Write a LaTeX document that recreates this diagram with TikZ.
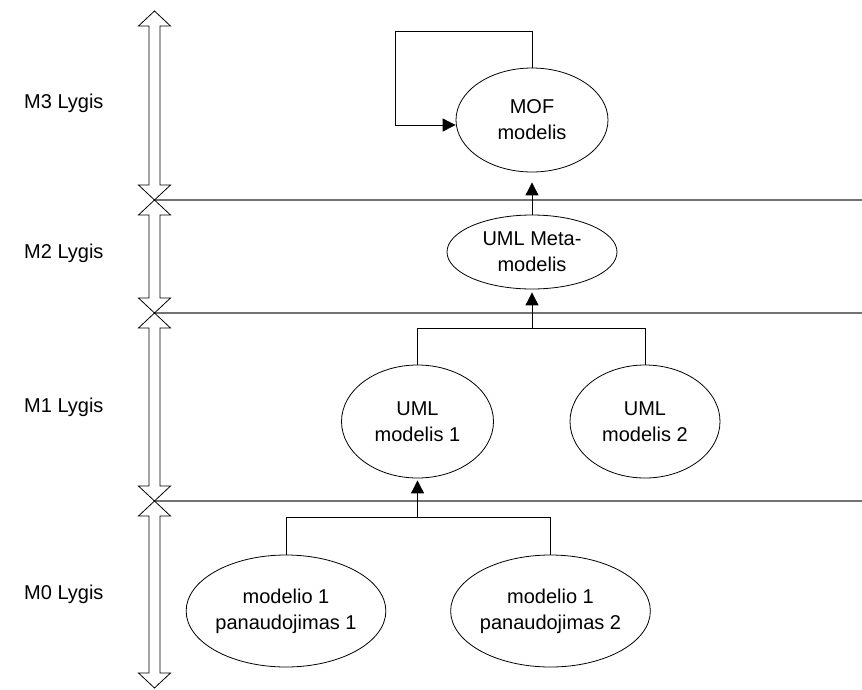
\documentclass[tikz,border=0pt]{standalone}
\usepackage{fontspec}
\setmainfont{Liberation Sans}
\usetikzlibrary{shapes.geometric,arrows.meta}

% outlined double arrow marking the extent of one level, from y=#1 to y=#2
\newcommand\levelarrow[2]{%
  \draw[lvlarrow] (154.5,#1) -- (170.5,#1+15) -- (160,#1+15) -- (160,#2-15)
    -- (170.5,#2-15) -- (154.5,#2) -- (138.5,#2-15) -- (149,#2-15)
    -- (149,#1+15) -- (138.5,#1+15) -- cycle;}

\tikzset{
  txt/.style={font=\fontsize{20}{26}\selectfont},
  model/.style={draw, line width=0.8pt, ellipse, inner sep=0pt, align=center, txt},
  conn/.style={line width=0.9pt},
  arr/.style={conn, -{Triangle[length=13pt,width=13pt]}},
  lvlarrow/.style={draw, fill=white, line width=0.8pt},
  divider/.style={draw=black!55, line width=1.3pt},
  lvllabel/.style={anchor=base west, inner sep=0pt, txt}
}

\begin{document}
\begin{tikzpicture}[x=1pt,y=-1pt]
\useasboundingbox[fill=white] (0,0) rectangle (862,689);

% level borders
\coordinate (c1) at (154.5,200);
\coordinate (c2) at (154.5,313);
\coordinate (c3) at (154.5,501);
\coordinate (edge) at (862,0);
\draw[divider] (c1) -- (c1 -| edge);
\draw[divider] (c2) -- (c2 -| edge);
\draw[divider] (c3) -- (c3 -| edge);

\levelarrow{11}{200}
\levelarrow{200}{313}
\levelarrow{313}{501}
\levelarrow{501}{688}

% level names
\node[lvllabel] (l3) at (24,108) {M3 Lygis};
\node[lvllabel] (l2) at (24,258) {M2 Lygis};
\node[lvllabel] (l1) at (24,412) {M1 Lygis};
\node[lvllabel] (l0) at (24,599) {M0 Lygis};

% models
\node[model, minimum width=152pt, minimum height=104pt] (mof) at (532,120) {MOF\\modelis};
\node[model, minimum width=170pt, minimum height=74pt] (meta) at (532,252) {UML Meta-\\modelis};
\node[model, minimum width=152pt, minimum height=113pt] (uml1) at (417.5,421.5) {UML\\modelis 1};
\node[model, minimum width=150pt, minimum height=113pt] (uml2) at (645,421.5) {UML\\modelis 2};
\node[model, minimum width=188pt, minimum height=112pt] (use1) at (286,611) {modelio 1\\panaudojimas 1};
\node[model, minimum width=189pt, minimum height=112pt] (use2) at (550.5,611) {modelio 1\\panaudojimas 2};

% self reference of MOF
\coordinate (loopTR) at (532,31);
\coordinate (loopTL) at (395,31);
\coordinate (loopBL) at (395,125);
\draw[arr] (mof.north) -- (loopTR) -- (loopTL) -- (loopBL) -- (mof.west |- loopBL);

% meta-model instance of MOF
\draw[arr, shorten >=10pt] (meta.north) -- (mof.south);

% UML models instances of the meta-model
\coordinate (j1) at (532,328);
\draw[conn] (uml1.north) -- (uml1.north |- j1) -- (uml2.north |- j1) -- (uml2.north);
\draw[arr, shorten >=3pt] (j1) -- (meta.south);

% usages instances of UML model 1
\coordinate (j0) at (417.5,517);
\draw[conn] (use1.north) -- (use1.north |- j0) -- (use2.north |- j0) -- (use2.north);
\draw[arr, shorten >=2pt] (j0) -- (uml1.south);
\end{tikzpicture}
\end{document}
